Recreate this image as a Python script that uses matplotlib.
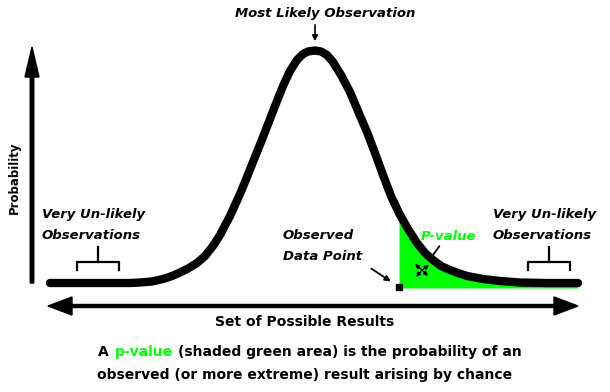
import numpy as np
import matplotlib
matplotlib.use("Agg")
import matplotlib.pyplot as plt
from matplotlib.offsetbox import TextArea, HPacker, AnnotationBbox

# Bell curve traced in pixel units (x to the right, y downwards)
curve_x = [50, 100, 130, 140, 152, 163, 172, 180, 188, 197, 205, 213, 220, 230,
           240, 247, 255, 263, 270, 277, 283, 290, 297, 303, 308, 315, 321,
           327, 333, 341, 350, 358, 367, 375, 383, 391, 399, 408, 417, 425,
           433, 441, 450, 458, 467, 483, 500, 520, 545, 578]
curve_y = [283, 283, 283, 282.5, 281.5, 279, 276, 272.5, 268.5, 263, 256, 246,
           235, 216, 194, 177, 157, 137, 119, 101, 86, 71, 60, 54, 51.5, 50.5,
           51.5, 55, 62, 75, 92, 111, 132, 153, 175, 196, 213, 229, 243, 253,
           260, 266, 270, 273, 276, 279, 281, 282.5, 283, 283]

observed_x = 399      # observed data point, start of the shaded tail
tail_floor = 288      # lower edge of the shaded p-value area

peak_label = "Most Likely Observation"
tail_label = "Very Un-likely\nObservations"
point_label = "Observed\nData Point"
pvalue_label = "P-value"
x_label = "Set of Possible Results"
y_label = "Probability"
caption_parts = ["A", "p-value", "(shaded green area) is the probability of an"]
caption_line2 = "observed (or more extreme) result arising by chance"

green = "#00ff00"

fig = plt.figure(figsize=(6.1, 3.92), dpi=100)
ax = fig.add_axes([0, 0, 1, 1])
ax.set_xlim(0, 610)
ax.set_ylim(392, 0)
ax.axis("off")

cx = np.array(curve_x)
cy = np.array(curve_y)

# shaded tail beyond the observed point
tail = cx >= observed_x
ax.fill_between(cx[tail], cy[tail], tail_floor, color=green, lw=0, zorder=1)

# the distribution itself
ax.plot(cx, cy, color="black", lw=6, solid_capstyle="round",
        solid_joinstyle="round", zorder=2)

# observed data point marker
ax.plot([observed_x], [tail_floor - 1], marker="s", ms=4, color="black", zorder=3)

# axes arrows
ax.arrow(32, 283, 0, -236, width=3.5, head_width=14, head_length=30,
         length_includes_head=True, color="black", zorder=3)
ax.arrow(313, 306, -265, 0, width=3, head_width=18, head_length=24,
         length_includes_head=True, color="black", zorder=3)
ax.arrow(313, 306, 265, 0, width=3, head_width=18, head_length=24,
         length_includes_head=True, color="black", zorder=3)

bold = dict(fontweight="bold", color="black")
label = dict(fontweight="bold", style="italic", fontsize=9.5, color="black",
             linespacing=1.75)

ax.text(14, 178, y_label, rotation=90, ha="center", va="center", fontsize=8.5, **bold)
ax.text(305, 322, x_label, ha="center", va="center", fontsize=10, **bold)

# peak label and pointer
ax.text(325, 13, peak_label, ha="center", va="center", **label)
ax.annotate("", xy=(315, 44), xytext=(315, 22),
            arrowprops=dict(arrowstyle="-|>", lw=1.2, color="black", mutation_scale=8))

# tails and brackets
for tx, bx in [(42, 98), (493, 549)]:
    ax.text(tx, 225, tail_label, ha="left", va="center", **label)
    ax.plot([bx - 21, bx - 21, bx + 21, bx + 21], [270, 262, 262, 270],
            color="black", lw=1.6)
    ax.plot([bx, bx], [247, 262], color="black", lw=1.6)

# observed data point label
ax.text(283, 246, point_label, ha="left", va="center", **label)
ax.annotate("", xy=(393, 283), xytext=(369, 267),
            arrowprops=dict(arrowstyle="-|>", lw=1.3, color="black", mutation_scale=8))

# p-value label
ax.text(421, 236, pvalue_label, ha="left", va="center", fontweight="bold",
        style="italic", fontsize=9.5, color=green)
ax.annotate("", xy=(430, 259), xytext=(441, 244),
            arrowprops=dict(arrowstyle="-", lw=1.3, color="black"))
for dx, dy in [(-7, -6), (7, -5), (-6, 7), (6, 6)]:
    ax.annotate("", xy=(422 + dx, 270 + dy), xytext=(422, 270),
                arrowprops=dict(arrowstyle="-|>", lw=1, color="black",
                                mutation_scale=6, shrinkA=0, shrinkB=0))

# caption with the highlighted term
cap = dict(fontweight="bold", fontsize=10)
parts = [TextArea(caption_parts[0], textprops=dict(color="black", **cap)),
         TextArea(caption_parts[1], textprops=dict(color=green, **cap)),
         TextArea(caption_parts[2], textprops=dict(color="black", **cap))]
row = HPacker(children=parts, align="baseline", pad=0, sep=4)
ax.add_artist(AnnotationBbox(row, (310, 352), xycoords="data",
                             box_alignment=(0.5, 0.5), frameon=False))
ax.text(305, 375, caption_line2, ha="center", va="center", **cap)

fig.savefig("out.png", dpi=100)
